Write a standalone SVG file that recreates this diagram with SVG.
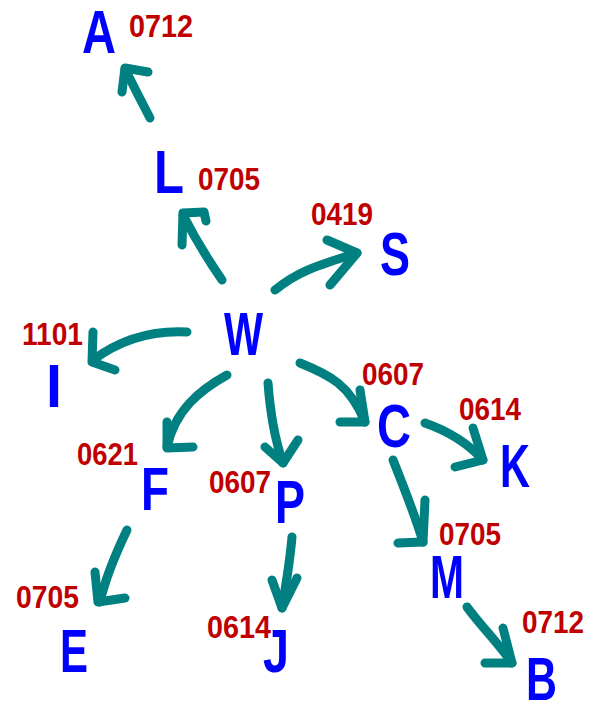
<svg xmlns="http://www.w3.org/2000/svg" width="589" height="702" viewBox="0 0 589 702">
<style>
.bg{fill:#ffffff}
.n{font-family:"Liberation Sans",Arial,sans-serif;font-weight:bold;font-size:61px;fill:#0000ff}
.d{font-family:"Liberation Sans",Arial,sans-serif;font-weight:bold;font-size:32px;fill:#c00000}
.c path{fill:none;stroke:#008080;stroke-width:9;stroke-linecap:round;stroke-linejoin:round}
</style>
<rect class="bg" x="0" y="0" width="589" height="702"/>
<g id="connectors" class="c">
  <path d="M150,118 Q138,95 125,69"/><path d="M148,72 L125,68 L122,92"/>
  <path d="M222,280 Q200,248 183,215"/><path d="M206,221 L204,212 L183,213 L182,245"/>
  <path d="M275,290 C300,270 320,265 357,253"/><path d="M327,240 L357,253 L330,285"/>
  <path d="M187,332 C150,330 120,340 93,360"/><path d="M93,332 L92,362 L115,370"/>
  <path d="M227,375 C200,390 175,410 167,447"/><path d="M167,422 L167,448 L193,447"/>
  <path d="M268,383 C270,410 275,440 283,463"/><path d="M265,447 L283,463 L298,440"/>
  <path d="M300,363 C330,375 350,385 365,422"/><path d="M360,390 L365,422 L340,422"/>
  <path d="M425,423 C445,430 465,440 483,460"/><path d="M473,428 L483,460 L455,467"/>
  <path d="M393,460 C405,490 415,515 423,542"/><path d="M425,500 L423,542 L398,543"/>
  <path d="M127,530 C115,555 105,580 100,602"/><path d="M95,572 L98,602 L125,598"/>
  <path d="M292,537 C290,560 286,585 282,608"/><path d="M272,580 L282,608 L297,578"/>
  <path d="M467,607 C480,625 500,645 512,663"/><path d="M503,628 L512,663 L485,663"/>
</g>
<g id="node-A"><text class="n" x="82" y="53" textLength="34" lengthAdjust="spacingAndGlyphs">A</text><text class="d" x="129" y="37" textLength="64" lengthAdjust="spacingAndGlyphs">0712</text></g>
<g id="node-L"><text class="n" x="154" y="193" textLength="30" lengthAdjust="spacingAndGlyphs">L</text><text class="d" x="198" y="190" textLength="62" lengthAdjust="spacingAndGlyphs">0705</text></g>
<g id="node-S"><text class="n" x="380" y="275" textLength="30" lengthAdjust="spacingAndGlyphs">S</text><text class="d" x="311" y="225" textLength="62" lengthAdjust="spacingAndGlyphs">0419</text></g>
<g id="node-W"><text class="n" x="224" y="355" textLength="39" lengthAdjust="spacingAndGlyphs">W</text></g>
<g id="node-I"><text class="n" x="46" y="407" textLength="16" lengthAdjust="spacingAndGlyphs">I</text><text class="d" x="22" y="345" textLength="61" lengthAdjust="spacingAndGlyphs">1101</text></g>
<g id="node-F"><text class="n" x="141" y="510" textLength="28" lengthAdjust="spacingAndGlyphs">F</text><text class="d" x="77" y="465" textLength="61" lengthAdjust="spacingAndGlyphs">0621</text></g>
<g id="node-C"><text class="n" x="377" y="447" textLength="34" lengthAdjust="spacingAndGlyphs">C</text><text class="d" x="362" y="385" textLength="62" lengthAdjust="spacingAndGlyphs">0607</text></g>
<g id="node-K"><text class="n" x="500" y="487" textLength="30" lengthAdjust="spacingAndGlyphs">K</text><text class="d" x="459" y="420" textLength="62" lengthAdjust="spacingAndGlyphs">0614</text></g>
<g id="node-P"><text class="n" x="275" y="523" textLength="30" lengthAdjust="spacingAndGlyphs">P</text><text class="d" x="209" y="493" textLength="62" lengthAdjust="spacingAndGlyphs">0607</text></g>
<g id="node-M"><text class="n" x="430" y="598" textLength="34" lengthAdjust="spacingAndGlyphs">M</text><text class="d" x="439" y="545" textLength="62" lengthAdjust="spacingAndGlyphs">0705</text></g>
<g id="node-B"><text class="n" x="526" y="700" textLength="31" lengthAdjust="spacingAndGlyphs">B</text><text class="d" x="522" y="633" textLength="62" lengthAdjust="spacingAndGlyphs">0712</text></g>
<g id="node-E"><text class="n" x="60" y="672" textLength="28" lengthAdjust="spacingAndGlyphs">E</text><text class="d" x="16" y="608" textLength="63" lengthAdjust="spacingAndGlyphs">0705</text></g>
<g id="node-J"><text class="n" x="263" y="672" textLength="26" lengthAdjust="spacingAndGlyphs">J</text><text class="d" x="207" y="638" textLength="64" lengthAdjust="spacingAndGlyphs">0614</text></g>
</svg>
